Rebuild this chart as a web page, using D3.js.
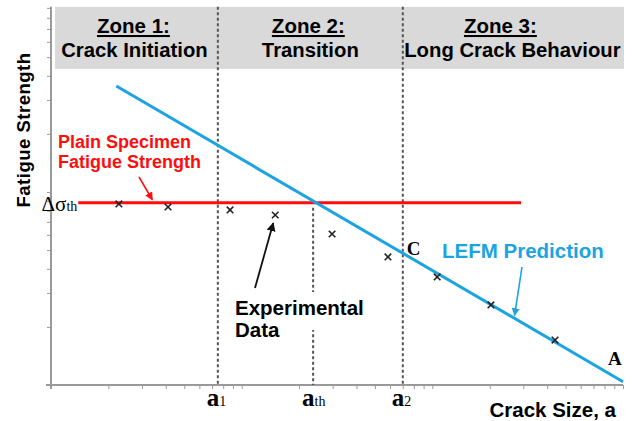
<!DOCTYPE html>
<html>
<head>
<meta charset="utf-8">
<script src="https://cdn.jsdelivr.net/npm/d3@7"></script>
<style>
  body { margin: 0; background: #fff; }
  text { font-family: "Liberation Sans", Arial, sans-serif; }
  .serif { font-family: "Liberation Serif", "Times New Roman", serif; }
</style>
</head>
<body>
<script>
// chart values (log-log axes, arbitrary units)
var zoneTitles = ['Zone 1:', 'Zone 2:', 'Zone 3:'];
var zoneSubtitles = ['Crack Initiation', 'Transition', 'Long Crack Behaviour'];
var markerNames = ['a', 'a', 'a'];
var markerSubs = ['1', 'th', '2'];
var markerValues = [7.5, 23.7, 70];
var plainStrength = 8.8;
var plainRange = [1.39, 292];
var lefmX = [2.2, 1000];
var lefmY = [35.4, 1.04];
var expX = [2.27, 4.11, 8.69, 15, 29.8, 58.5, 106, 203, 440];
var expY = [8.67, 8.36, 8.07, 7.6, 6.06, 4.61, 3.63, 2.6, 1.71];

var width = 632, height = 421;
var blue = '#1ba4e1', red = '#ff0d0d', dash = '#555';

var svg = d3.select('body').append('svg')
    .attr('width', width)
    .attr('height', height);

var defs = svg.append('defs');
[['arrBlack', '#111'], ['arrRed', red], ['arrBlue', blue]].forEach(function (m) {
    defs.append('marker')
        .attr('id', m[0])
        .attr('viewBox', '0 0 10 10')
        .attr('refX', 9).attr('refY', 5)
        .attr('markerWidth', 5).attr('markerHeight', 5)
        .attr('orient', 'auto')
      .append('path')
        .attr('d', 'M0,0L10,5L0,10Z')
        .attr('fill', m[1]);
});

var x = d3.scaleLog().domain([1, 1000]).range([51, 623]);
var y = d3.scaleLog().domain([1, 100]).range([385, -1]);

// header band with zone names
var zoneEdges = [x(1) + 4].concat([markerValues[0], markerValues[2]].map(x), [x(1000) + 1]);
var titleShift = [-3, -2, -13];
svg.append('rect')
    .attr('x', zoneEdges[0]).attr('y', y(90) - 1)
    .attr('width', zoneEdges[3] - zoneEdges[0])
    .attr('height', 62)
    .attr('fill', '#d9d9d9');

var zones = svg.selectAll('g.zone')
    .data(zoneTitles)
    .enter().append('g')
    .attr('transform', function (d, i) {
        return 'translate(' + (zoneEdges[i] + zoneEdges[i + 1]) / 2 + ',0)';
    });
zones.append('text')
    .attr('x', function (d, i) { return titleShift[i]; })
    .attr('y', 33)
    .attr('text-anchor', 'middle')
    .attr('font-size', 20.5).attr('font-weight', 'bold')
    .style('text-decoration', 'underline')
    .text(function (d) { return d; });
zones.append('text')
    .attr('x', function (d, i) { return i === 0 ? -2 : (i === 2 ? -1 : 0); })
    .attr('y', 57)
    .attr('text-anchor', 'middle')
    .attr('font-size', 20.3).attr('font-weight', 'bold')
    .text(function (d, i) { return zoneSubtitles[i]; });

// axes
var xAxis = svg.append('g')
    .attr('transform', 'translate(0,' + y(1) + ')')
    .call(d3.axisBottom(x).tickSize(4).tickSizeOuter(0).tickFormat(''));
var yAxis = svg.append('g')
    .attr('transform', 'translate(' + x(1) + ',0)')
    .call(d3.axisLeft(y).tickValues(y.ticks().filter(function (v) { return v <= 90; }))
        .tickSize(4).tickSizeOuter(0).tickFormat(''));
[xAxis, yAxis].forEach(function (g) {
    g.select('.domain').remove();
    g.selectAll('line').attr('stroke', '#999').attr('stroke-width', 1);
});
svg.append('line')
    .attr('x1', x(1) - 5).attr('x2', x(1000))
    .attr('y1', y(1)).attr('y2', y(1))
    .attr('stroke', '#999').attr('stroke-width', 2);
svg.append('line')
    .attr('x1', x(1)).attr('x2', x(1))
    .attr('y1', y(1) + 4).attr('y2', y(90) - 1)
    .attr('stroke', '#999').attr('stroke-width', 2);

// vertical dashed markers a1, ath, a2
svg.selectAll('line.mark')
    .data(markerValues)
    .enter().append('line')
    .attr('x1', x).attr('x2', x)
    .attr('y1', function (d, i) { return i === 1 ? y(plainStrength) + 5 : y(90) - 1; })
    .attr('y2', y(1))
    .attr('stroke', dash).attr('stroke-width', 2)
    .attr('stroke-dasharray', '3,2.5');

var markLabels = svg.selectAll('text.mark')
    .data(markerValues)
    .enter().append('text')
    .attr('class', 'serif')
    .attr('x', function (d) { return x(d) - 11; })
    .attr('y', 406);
markLabels.append('tspan')
    .attr('font-size', 25).attr('font-weight', 'bold')
    .text(function (d, i) { return markerNames[i]; });
markLabels.append('tspan')
    .attr('font-size', 14)
    .text(function (d, i) { return markerSubs[i]; });

// plain specimen fatigue strength
svg.append('line')
    .attr('x1', x(plainRange[0])).attr('x2', x(plainRange[1]))
    .attr('y1', y(plainStrength)).attr('y2', y(plainStrength))
    .attr('stroke', red).attr('stroke-width', 3);

var dsig = svg.append('text')
    .attr('class', 'serif')
    .attr('x', x(plainRange[0]) - 1)
    .attr('y', y(plainStrength) + 8)
    .attr('text-anchor', 'end');
dsig.append('tspan').attr('font-size', 21).text('Δσ');
dsig.append('tspan').attr('font-size', 14).text('th');

// LEFM prediction
var line = d3.line()
    .x(function (d) { return x(d[0]); })
    .y(function (d) { return y(d[1]); });
svg.append('path')
    .datum(d3.zip(lefmX, lefmY))
    .attr('d', line)
    .attr('fill', 'none')
    .attr('stroke', blue).attr('stroke-width', 3);

// experimental points
svg.selectAll('path.pt')
    .data(d3.zip(expX, expY))
    .enter().append('path')
    .attr('transform', function (d) { return 'translate(' + x(d[0]) + ',' + y(d[1]) + ')'; })
    .attr('d', d3.symbol(d3.symbolX, 30))
    .attr('fill', 'none')
    .attr('stroke', '#222').attr('stroke-width', 1.6);

// annotations
svg.append('text')
    .attr('x', 58).attr('y', 148)
    .attr('font-size', 18).attr('font-weight', 'bold')
    .attr('fill', red)
    .text('Plain Specimen');
svg.append('text')
    .attr('x', 58).attr('y', 168)
    .attr('font-size', 18).attr('font-weight', 'bold')
    .attr('fill', red)
    .text('Fatigue Strength');
svg.append('line')
    .attr('x1', 139).attr('y1', 177)
    .attr('x2', x(3.4)).attr('y2', y(plainStrength) - 3)
    .attr('stroke', red).attr('stroke-width', 1.6)
    .attr('marker-end', 'url(#arrRed)');

svg.append('rect')
    .attr('x', 290).attr('y', 292)
    .attr('width', 80).attr('height', 38)
    .attr('fill', '#fff');
svg.append('text')
    .attr('x', 235).attr('y', 315)
    .attr('font-size', 20.5).attr('font-weight', 'bold')
    .text('Experimental');
svg.append('text')
    .attr('x', 235).attr('y', 337)
    .attr('font-size', 20.5).attr('font-weight', 'bold')
    .text('Data');
svg.append('line')
    .attr('x1', 255).attr('y1', 288)
    .attr('x2', x(expX[3]) - 2).attr('y2', y(expY[3]) + 8)
    .attr('stroke', '#111').attr('stroke-width', 1.8)
    .attr('marker-end', 'url(#arrBlack)');

svg.append('text')
    .attr('x', 442).attr('y', 258)
    .attr('font-size', 20.5).attr('font-weight', 'bold')
    .attr('fill', blue)
    .text('LEFM Prediction');
var lefmAt = function (v) {
    var t = (Math.log(v) - Math.log(lefmX[0])) / (Math.log(lefmX[1]) - Math.log(lefmX[0]));
    return Math.exp(Math.log(lefmY[0]) + t * (Math.log(lefmY[1]) - Math.log(lefmY[0])));
};
svg.append('line')
    .attr('x1', 522).attr('y1', 267)
    .attr('x2', x(270)).attr('y2', y(lefmAt(270)) - 3)
    .attr('stroke', blue).attr('stroke-width', 1.6)
    .attr('marker-end', 'url(#arrBlue)');

svg.append('text')
    .attr('class', 'serif')
    .attr('x', x(markerValues[2]) + 4).attr('y', 255)
    .attr('font-size', 19).attr('font-weight', 'bold')
    .text('C');
svg.append('text')
    .attr('class', 'serif')
    .attr('x', 608).attr('y', 365)
    .attr('font-size', 19).attr('font-weight', 'bold')
    .text('A');

// axis titles
svg.append('text')
    .attr('transform', 'translate(30,130) rotate(-90)')
    .attr('text-anchor', 'middle')
    .attr('font-size', 18.5).attr('font-weight', 'bold')
    .attr('letter-spacing', 0.5)
    .text('Fatigue Strength');
svg.append('text')
    .attr('x', 616).attr('y', 417)
    .attr('text-anchor', 'end')
    .attr('font-size', 20.5).attr('font-weight', 'bold')
    .text('Crack Size, a');
</script>
</body>
</html>
